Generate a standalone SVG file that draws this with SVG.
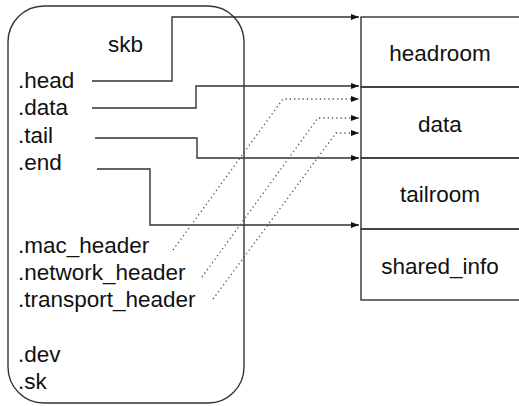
<svg xmlns="http://www.w3.org/2000/svg" width="519" height="406" viewBox="0 0 519 406">
<defs>
<marker id="ah" markerWidth="8" markerHeight="6" refX="8" refY="3" orient="auto" markerUnits="userSpaceOnUse">
<path d="M0,0 L8,3 L0,6 Z" fill="#111"/>
</marker>
<style>
text{font-family:"Liberation Sans",Arial,sans-serif;font-size:22.5px;fill:#111}
.c{text-anchor:middle}
.box{fill:none;stroke:#333;stroke-width:1.4}
.ln{fill:none;stroke:#333;stroke-width:1.4}
.dt{fill:none;stroke:#555;stroke-width:1.3;stroke-dasharray:1.3 3}
</style>
</defs>
<g id="skb">
<rect class="box" x="8" y="6" width="236" height="397" rx="36" ry="36"/>
<text x="108" y="52">skb</text>
<text x="18" y="88">.head</text>
<text x="18" y="115">.data</text>
<text x="18" y="143">.tail</text>
<text x="18" y="170">.end</text>
<text x="18" y="253">.mac_header</text>
<text x="18" y="280">.network_header</text>
<text x="18" y="307">.transport_header</text>
<text x="18" y="362">.dev</text>
<text x="18" y="389">.sk</text>
</g>
<g id="headroom">
<rect class="box" x="361" y="17" width="170" height="70"/>
<text class="c" x="440" y="61">headroom</text>
</g>
<g id="data">
<rect class="box" x="361" y="87" width="170" height="71"/>
<text class="c" x="440" y="132">data</text>
</g>
<g id="tailroom">
<rect class="box" x="361" y="158" width="170" height="71"/>
<text class="c" x="440" y="202">tailroom</text>
</g>
<g id="shared_info">
<rect class="box" x="361" y="229" width="170" height="71"/>
<text class="c" x="440" y="274">shared_info</text>
</g>
<g id="connectors">
<path class="ln" d="M92,81 H172 V17 H359" marker-end="url(#ah)"/>
<path class="ln" d="M92,108 H196 V86 H359" marker-end="url(#ah)"/>
<path class="ln" d="M95,138 H197 V158 H359" marker-end="url(#ah)"/>
<path class="ln" d="M97,169 H150 V225 H359" marker-end="url(#ah)"/>
<path class="dt" d="M173,250 L283,99 H359" marker-end="url(#ah)"/>
<path class="dt" d="M202,277 L318,118 H359" marker-end="url(#ah)"/>
<path class="dt" d="M213,299 L336,133 H359" marker-end="url(#ah)"/>
</g>
</svg>
